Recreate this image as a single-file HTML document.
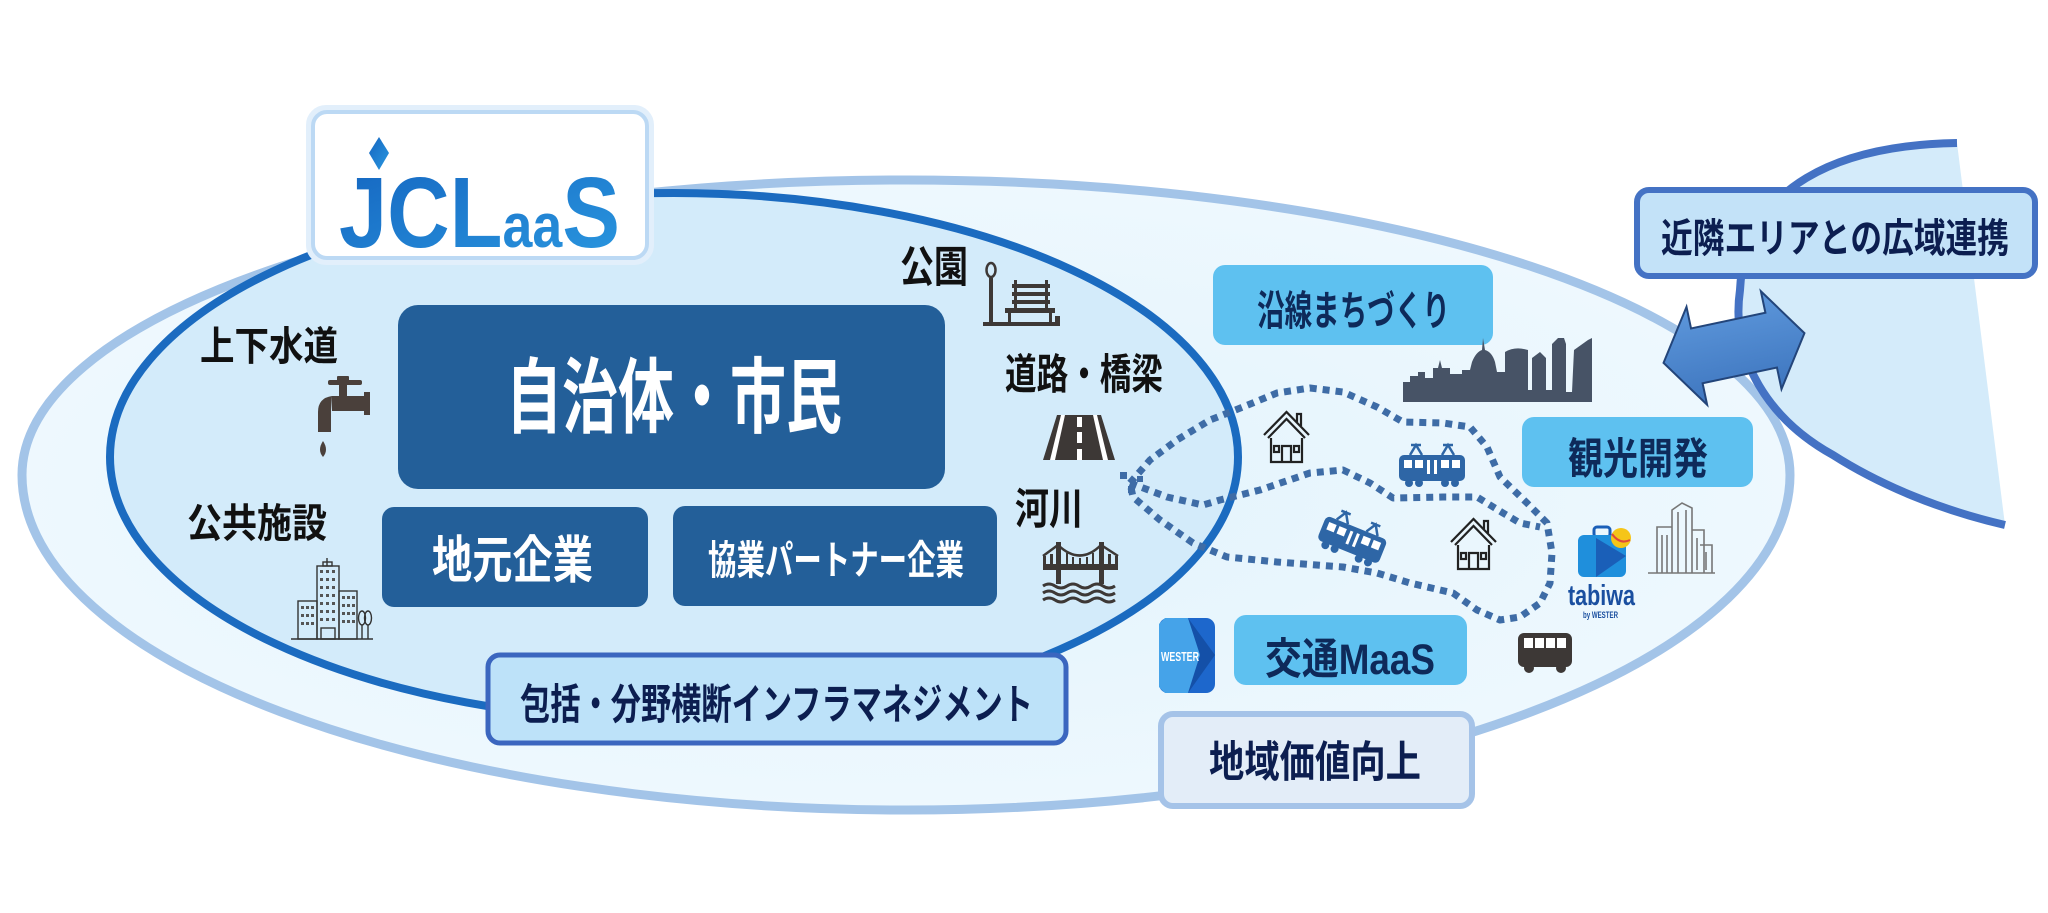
<!DOCTYPE html>
<html><head><meta charset="utf-8">
<style>
html,body{margin:0;padding:0;background:#fff;width:2048px;height:913px;overflow:hidden}
svg{display:block}
</style></head>
<body>
<svg width="2048" height="913" viewBox="0 0 2048 913" xmlns="http://www.w3.org/2000/svg">
<defs>
  <radialGradient id="og" cx="0.5" cy="0.5" r="0.6">
    <stop offset="0" stop-color="#e2f3fc"/>
    <stop offset="1" stop-color="#f0f9fe"/>
  </radialGradient>
  <linearGradient id="ag" x1="0" y1="0" x2="0" y2="1">
    <stop offset="0" stop-color="#5d97db"/>
    <stop offset="1" stop-color="#3e76bf"/>
  </linearGradient>
  <linearGradient id="lg" x1="0" y1="0" x2="1" y2="1">
    <stop offset="0" stop-color="#1565c0"/>
    <stop offset="1" stop-color="#2a98e0"/>
  </linearGradient>
  <g id="train">
    <path d="M-22,-11 L-16,-21 L-10,-11 M10,-11 L16,-21 L22,-11 M-21,-21 H-11 M11,-21 H21" stroke="#2e66a6" stroke-width="2.5" fill="none"/>
    <rect x="-33" y="-11" width="66" height="26" rx="5" fill="#2e66a6"/>
    <g fill="#fff">
      <rect x="-28" y="-6" width="8" height="8"/><rect x="-17" y="-6" width="8" height="8"/>
      <rect x="-5" y="-6" width="3" height="14"/><rect x="2" y="-6" width="3" height="14"/>
      <rect x="9" y="-6" width="8" height="8"/><rect x="20" y="-6" width="8" height="8"/>
    </g>
    <g fill="#2e66a6"><circle cx="-23" cy="17" r="4"/><circle cx="-13" cy="17" r="4"/><circle cx="13" cy="17" r="4"/><circle cx="23" cy="17" r="4"/></g>
  </g>
  <g id="house" fill="none" stroke="#222" stroke-width="2.2" stroke-linejoin="miter">
    <polyline points="1,25 23.5,2 46,25"/>
    <polyline points="5,28 23.5,9 42,28"/>
    <polyline points="34,12 34,4 38,4 38,16"/>
    <polyline points="8,28 8,52 39,52 39,28"/>
    <polyline points="19,52 19,36 28,36 28,52"/>
    <rect x="11" y="36" width="5" height="6"/>
    <rect x="31" y="36" width="5" height="6"/>
  </g>
</defs>

<!-- outer ellipse -->
<path d="M22,475 A884,295 0 0 1 1790,475 A884,335 0 0 1 22,475 Z" fill="url(#og)" stroke="#a3c4e8" stroke-width="9"/>

<!-- right neighbouring area -->
<path d="M1957,143 C1840,145 1745,185 1740,290 C1730,360 1770,420 1833,455 C1880,485 1940,510 2005,525 L1957,143 Z" fill="#d4ebfa"/>
<path d="M1957,143 C1840,145 1745,185 1740,290 C1730,360 1770,420 1833,455 C1880,485 1940,510 2005,525" fill="none" stroke="#4472c4" stroke-width="8"/>

<!-- inner ellipse -->
<ellipse cx="674" cy="457" rx="564" ry="264" fill="#d3ebfa" stroke="#1b6bc0" stroke-width="8"/>

<!-- logo box -->
<rect x="310" y="109" width="340" height="152" rx="16" fill="none" stroke="#e2effb" stroke-width="8"/>
<rect x="313" y="112" width="334" height="146" rx="14" fill="#fff" stroke="#bcd9f4" stroke-width="4"/>
<polygon points="379,137 389,153 379,170 369,153" fill="url(#lg)"/>
<text x="339" y="247" fill="url(#lg)" font-family="'Liberation Sans',sans-serif" font-weight="700" textLength="281" lengthAdjust="spacingAndGlyphs"><tspan font-size="100">JCL</tspan><tspan font-size="62">aa</tspan><tspan font-size="100">S</tspan></text>

<!-- dotted routes -->
<g fill="none" stroke="#3e6ca6" stroke-width="7" stroke-dasharray="7 6" stroke-linejoin="round">
  <polyline points="1130,483 1150,460 1177,440 1210,420 1243,407 1277,393 1310,388 1343,392 1377,407 1403,422 1443,423 1470,427 1487,447 1500,477 1527,503 1547,523 1552,553 1550,583 1540,603 1520,617 1500,620 1477,610 1453,593 1410,583 1377,573 1343,567 1277,562 1227,557 1193,543 1160,520 1133,497 1130,483"/>
  <polyline points="1130,483 1167,497 1203,505 1220,500 1260,490 1310,473 1343,470 1370,483 1393,498 1443,497 1477,497 1503,513 1520,523 1540,527"/>
</g>
<g fill="#3e6ca6"><rect x="1120" y="472" width="7" height="7"/><rect x="1128" y="486" width="7" height="7"/><rect x="1137" y="476" width="6" height="6"/></g>

<!-- blue boxes -->
<rect x="398" y="305" width="547" height="184" rx="20" fill="#235f99"/>
<rect x="382" y="507" width="266" height="100" rx="12" fill="#235f99"/>
<rect x="673" y="506" width="324" height="100" rx="12" fill="#235f99"/>

<!-- 包括 box -->
<rect x="488" y="655" width="578" height="88" rx="12" fill="#bde2f9" stroke="#3b66bf" stroke-width="5"/>

<!-- right side boxes -->
<rect x="1213" y="265" width="280" height="80" rx="12" fill="#5ec1f0"/>
<rect x="1522" y="417" width="231" height="70" rx="12" fill="#5ec1f0"/>
<rect x="1234" y="615" width="233" height="70" rx="12" fill="#5ec1f0"/>
<rect x="1161" y="714" width="311" height="92" rx="12" fill="#e3edf8" stroke="#a5c3e8" stroke-width="6"/>

<!-- arrow -->
<g transform="translate(1734,348) rotate(-11.9)">
  <polygon points="-72,0 -38,-50 -38,-28 38,-28 38,-50 72,0 38,50 38,28 -38,28 -38,50" fill="url(#ag)" stroke="#23457a" stroke-width="2"/>
</g>

<!-- 近隣 box -->
<rect x="1637" y="190" width="398" height="86" rx="12" fill="#c3e2f8" stroke="#4472c4" stroke-width="6"/>

<!-- skyline -->
<path d="M1403,402 L1403,382 L1410,382 L1410,376 L1418,376 L1418,372 L1425,372 L1425,378 L1433,378 L1433,368 L1438,368 L1440,360 L1442,368 L1450,368 L1450,374 L1462,374 L1462,370 L1470,370 L1472,362 Q1476,352 1482,350 L1483,338 L1485,350 Q1492,352 1495,362 L1497,372 L1505,372 L1505,352 Q1515,346 1528,350 L1528,390 L1532,390 L1532,358 L1540,352 L1546,358 L1546,390 L1552,390 L1552,344 L1558,338 L1564,338 L1566,344 L1566,392 L1572,392 L1574,350 L1588,340 L1592,338 L1592,402 Z" fill="#475366"/>

<!-- houses & trains -->
<use href="#house" transform="translate(1263,410)"/>
<use href="#house" transform="translate(1450,517)"/>
<use href="#train" transform="translate(1432,466)"/>
<use href="#train" transform="translate(1353,538) rotate(22)"/>

<!-- bus -->
<g fill="#3d3836">
  <rect x="1518" y="633" width="54" height="34" rx="6"/>
  <circle cx="1529" cy="668" r="5"/><circle cx="1561" cy="668" r="5"/>
</g>
<g fill="#fff"><rect x="1524" y="638" width="9" height="10"/><rect x="1535" y="638" width="9" height="10"/><rect x="1546" y="638" width="9" height="10"/><rect x="1557" y="638" width="9" height="10"/></g>

<!-- tabiwa -->
<rect x="1594" y="527" width="16" height="10" rx="3" fill="none" stroke="#1a5fb8" stroke-width="3"/>
<rect x="1578" y="535" width="48" height="42" rx="6" fill="#1f8fdc"/>
<polygon points="1596,538 1626,556 1596,577" fill="#1a5fb8"/>
<circle cx="1621" cy="538" r="10" fill="#f5c518"/>
<path d="M1612,534 Q1620,545 1630,540" fill="none" stroke="#e04a3a" stroke-width="2"/>
<text x="1568" y="605" font-family="'Liberation Sans',sans-serif" font-weight="700" font-size="29" fill="#1a4fa0" textLength="67" lengthAdjust="spacingAndGlyphs">tabiwa</text>
<text x="1583" y="618" font-family="'Liberation Sans',sans-serif" font-weight="700" font-size="9" fill="#1a4fa0" textLength="35" lengthAdjust="spacingAndGlyphs">by WESTER</text>

<!-- buildings outline -->
<g fill="none" stroke="#777" stroke-width="1.6">
  <line x1="1648" y1="573" x2="1715" y2="573"/>
  <path d="M1672,573 V510 L1682,503 L1692,508 V573"/>
  <path d="M1678,512 V573 M1686,510 V573"/>
  <path d="M1657,573 V527 H1672"/>
  <path d="M1662,535 V573 M1667,535 V573"/>
  <path d="M1692,530 H1704 V573"/>
  <path d="M1700,545 H1712 V573"/>
  <path d="M1697,538 V570 M1706,552 V570"/>
</g>

<!-- WESTER icon -->
<rect x="1159" y="618" width="56" height="75" rx="9" fill="#1d67cc"/>
<polygon points="1165,618 1188,618 1205,655 1188,693 1165,693 1159,687 1159,624" fill="#45a3e9"/>
<polygon points="1188,618 1215,655 1188,693 1200,655" fill="#1450a8"/>
<text x="1161" y="661" font-family="'Liberation Sans',sans-serif" font-weight="700" font-size="13" fill="#fff" textLength="38" lengthAdjust="spacingAndGlyphs">WESTER</text>

<!-- faucet -->
<g fill="#4a403b">
  <rect x="337" y="376" width="12" height="5" rx="1"/>
  <rect x="328" y="380" width="34" height="5" rx="2"/>
  <rect x="339" y="384" width="8" height="13"/>
  <rect x="332" y="396" width="34" height="15"/>
  <rect x="364" y="392" width="6" height="23"/>
  <path d="M332,396 Q318,398 318,412 L318,432 L331,432 L331,411 Z"/>
  <path d="M323,441 Q329,450 323,457 Q317,450 323,441 Z"/>
</g>

<!-- public building -->
<g fill="none" stroke="#333" stroke-width="1.4">
  <line x1="291" y1="639" x2="373" y2="639"/>
  <rect x="317" y="566" width="22" height="73"/>
  <line x1="327" y1="558" x2="327" y2="566"/>
  <rect x="323" y="562" width="9" height="4"/>
  <rect x="298" y="601" width="19" height="38"/>
  <rect x="339" y="591" width="18" height="48"/>
  <rect x="321" y="628" width="14" height="11"/>
  <ellipse cx="362" cy="618" rx="3.5" ry="7"/>
  <ellipse cx="368" cy="618" rx="3.5" ry="7"/>
  <line x1="362" y1="625" x2="362" y2="639"/><line x1="368" y1="625" x2="368" y2="639"/>
</g>
<g fill="#555">
  <rect x="320" y="570" width="3" height="3"/><rect x="326" y="570" width="3" height="3"/><rect x="332" y="570" width="3" height="3"/>
  <rect x="320" y="578" width="3" height="3"/><rect x="326" y="578" width="3" height="3"/><rect x="332" y="578" width="3" height="3"/>
  <rect x="320" y="586" width="3" height="3"/><rect x="326" y="586" width="3" height="3"/><rect x="332" y="586" width="3" height="3"/>
  <rect x="320" y="594" width="3" height="3"/><rect x="326" y="594" width="3" height="3"/><rect x="332" y="594" width="3" height="3"/>
  <rect x="320" y="602" width="3" height="3"/><rect x="326" y="602" width="3" height="3"/><rect x="332" y="602" width="3" height="3"/>
  <rect x="320" y="610" width="3" height="3"/><rect x="326" y="610" width="3" height="3"/><rect x="332" y="610" width="3" height="3"/>
  <rect x="320" y="618" width="3" height="3"/><rect x="326" y="618" width="3" height="3"/><rect x="332" y="618" width="3" height="3"/>
  <rect x="301" y="606" width="3" height="3"/><rect x="306" y="606" width="3" height="3"/><rect x="311" y="606" width="3" height="3"/>
  <rect x="301" y="614" width="3" height="3"/><rect x="306" y="614" width="3" height="3"/><rect x="311" y="614" width="3" height="3"/>
  <rect x="301" y="622" width="3" height="3"/><rect x="306" y="622" width="3" height="3"/><rect x="311" y="622" width="3" height="3"/>
  <rect x="342" y="596" width="3" height="3"/><rect x="347" y="596" width="3" height="3"/><rect x="352" y="596" width="3" height="3"/>
  <rect x="342" y="604" width="3" height="3"/><rect x="347" y="604" width="3" height="3"/><rect x="352" y="604" width="3" height="3"/>
  <rect x="342" y="612" width="3" height="3"/><rect x="347" y="612" width="3" height="3"/><rect x="352" y="612" width="3" height="3"/>
  <rect x="342" y="620" width="3" height="3"/><rect x="347" y="620" width="3" height="3"/><rect x="352" y="620" width="3" height="3"/>
</g>

<!-- bench -->
<g fill="#3d3836">
  <rect x="983" y="322" width="77" height="4"/>
  <rect x="989" y="278" width="4" height="45"/>
  <rect x="1012" y="284" width="38" height="4"/>
  <rect x="1012" y="292" width="38" height="4"/>
  <rect x="1012" y="300" width="38" height="4"/>
  <rect x="1014" y="280" width="3" height="30"/>
  <rect x="1045" y="280" width="3" height="30"/>
  <rect x="1005" y="308" width="50" height="5"/>
  <rect x="1008" y="312" width="3" height="11"/>
  <rect x="1049" y="312" width="3" height="11"/>
  <rect x="1055" y="316" width="5" height="6"/>
</g>
<ellipse cx="991" cy="270" rx="4.5" ry="7" fill="none" stroke="#3d3836" stroke-width="2.5"/>

<!-- road -->
<polygon points="1057,415 1101,415 1115,460 1043,460" fill="#3d3836"/>
<polygon points="1061,415 1065,415 1055,460 1050,460" fill="#fff"/>
<polygon points="1093,415 1097,415 1108,460 1103,460" fill="#fff"/>
<g fill="#fff"><rect x="1077" y="417" width="5" height="10"/><rect x="1077" y="432" width="5" height="11"/><rect x="1077" y="449" width="5" height="11"/></g>

<!-- bridge -->
<g fill="#3d3836">
  <rect x="1056" y="542" width="5" height="42"/>
  <rect x="1099" y="542" width="5" height="42"/>
  <rect x="1043" y="564" width="75" height="6"/>
  <rect x="1043" y="556" width="3" height="8"/><rect x="1050" y="554" width="3" height="10"/>
  <rect x="1066" y="553" width="2" height="11"/><rect x="1072" y="557" width="2" height="7"/><rect x="1079" y="558" width="2" height="6"/><rect x="1086" y="557" width="2" height="7"/><rect x="1092" y="553" width="2" height="11"/>
  <rect x="1108" y="554" width="3" height="10"/><rect x="1115" y="556" width="3" height="8"/>
</g>
<path d="M1043,556 L1058,545 Q1080,566 1101,545 L1118,556" fill="none" stroke="#3d3836" stroke-width="2.5"/>
<g fill="none" stroke="#3d3836" stroke-width="3">
  <path d="M1043,586 q6,-4 12,0 t12,0 t12,0 t12,0 t12,0 t12,0"/>
  <path d="M1043,593 q6,-4 12,0 t12,0 t12,0 t12,0 t12,0 t12,0"/>
  <path d="M1043,600 q6,-4 12,0 t12,0 t12,0 t12,0 t12,0 t12,0"/>
</g>

<!-- text labels -->
<g font-family="'Liberation Sans','Noto Sans CJK JP',sans-serif" font-weight="700">
  <text x="506" y="426" font-size="82" fill="#fff" textLength="336" lengthAdjust="spacingAndGlyphs">自治体・市民</text>
  <text x="432" y="578" font-size="51" fill="#fff" textLength="161" lengthAdjust="spacingAndGlyphs">地元企業</text>
  <text x="708" y="574" font-size="40" fill="#fff" textLength="256" lengthAdjust="spacingAndGlyphs">協業パートナー企業</text>
  <text x="200" y="360" font-size="40" fill="#111" textLength="138" lengthAdjust="spacingAndGlyphs">上下水道</text>
  <text x="187" y="537" font-size="40" fill="#111" textLength="140" lengthAdjust="spacingAndGlyphs">公共施設</text>
  <text x="900" y="282" font-size="43" fill="#111" textLength="68" lengthAdjust="spacingAndGlyphs">公園</text>
  <text x="1005" y="389" font-size="42" fill="#111" textLength="158" lengthAdjust="spacingAndGlyphs">道路・橋梁</text>
  <text x="1015" y="524" font-size="43" fill="#111" textLength="68" lengthAdjust="spacingAndGlyphs">河川</text>
  <text x="520" y="719" font-size="42" fill="#0c1e50" textLength="513" lengthAdjust="spacingAndGlyphs">包括・分野横断インフラマネジメント</text>
  <text x="1257" y="325" font-size="41" fill="#0e2a5a" textLength="193" lengthAdjust="spacingAndGlyphs">沿線まちづくり</text>
  <text x="1568" y="474" font-size="43" fill="#0e2a5a" textLength="140" lengthAdjust="spacingAndGlyphs">観光開発</text>
  <text x="1265" y="674" font-size="43" fill="#0e2a5a" textLength="170" lengthAdjust="spacingAndGlyphs">交通MaaS</text>
  <text x="1209" y="777" font-size="43" fill="#0c1e50" textLength="212" lengthAdjust="spacingAndGlyphs">地域価値向上</text>
  <text x="1661" y="252" font-size="40" fill="#0c1e50" textLength="348" lengthAdjust="spacingAndGlyphs">近隣エリアとの広域連携</text>
</g>
</svg>
</body></html>
